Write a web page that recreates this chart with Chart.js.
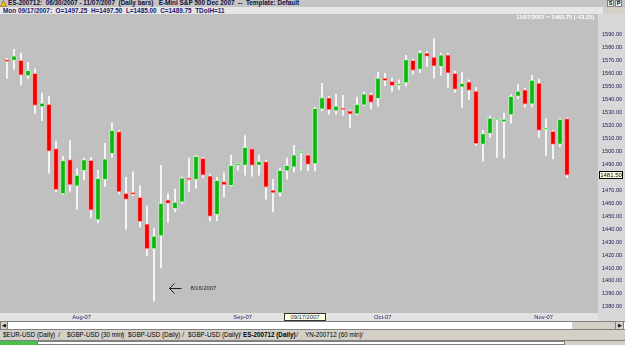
<!DOCTYPE html>
<html><head><meta charset="utf-8">
<script src="https://cdn.jsdelivr.net/npm/chart.js@4.4.1/dist/chart.umd.min.js"></script>
<style>
body{margin:0;width:625px;height:345px;overflow:hidden;background:#D4D0C8;font-family:'Liberation Sans',Arial,sans-serif;position:relative}
.abs{position:absolute;white-space:nowrap;line-height:1}
#row1{left:0;top:0;width:625px;height:7px;background:#C4C4C4}
#row2{left:0;top:7px;width:603px;height:7px;background:#E6E6E6}
#t1{left:8px;top:0px;font-size:6.4px;font-weight:bold;color:#101040}
#t2{left:3px;top:7.5px;font-size:6.4px;font-weight:bold;color:#1a1a70}
#cwrap{left:0;top:14px;width:625px;height:307px}
#lastlbl{left:516px;top:14.5px;font-size:5.8px;font-weight:bold;color:#ffffff}
.btn{top:0;width:7px;height:7px;background:#f4f4f4;border:1px solid #808080;box-sizing:border-box;font-size:5.5px;font-weight:bold;text-align:center;color:#000}
#datebox{left:284px;top:313px;width:42px;height:8px;background:#FFFFE6;border:1px solid #333;box-sizing:border-box;font-size:5.8px;color:#1a1a60;text-align:center;line-height:6px}
#scroll{left:0;top:321px;width:625px;height:9px;background:#fff;border-top:1px solid #808080;border-bottom:1px solid #808080;box-sizing:border-box}
#sl{left:0;top:321px;width:8px;height:9px;background:#D4D0C8;border:1px solid #808080;box-sizing:border-box;font-size:5px;text-align:center;line-height:7px}
#sr{left:615px;top:321px;width:9px;height:9px;background:#D4D0C8;border:1px solid #808080;box-sizing:border-box;font-size:5px;text-align:center;line-height:7px}
#thumb{left:572px;top:322px;width:43px;height:7px;background:#D4D0C8}
#tabs{left:0;top:330px;width:625px;height:11px;background:#D4D0C8;border-bottom:1px solid #808080;box-sizing:border-box}
.tab{top:332px;font-size:6.3px;color:#000}
.sep{top:331px;font-size:8px;color:#404040}
#bottom{left:37px;top:341px;width:528px;height:4px;background:#fff;border:1px solid #808080;box-sizing:border-box}
#green{left:0;top:341px;width:37px;height:4px;background:#4CC04C}
</style>
</head><body>
<div class="abs" id="row1"></div>
<div class="abs" id="row2"></div>
<svg class="abs" style="left:0;top:0" width="7" height="7"><polygon points="3.5,0.5 6.5,6.5 0.5,6.5" fill="#F0C000" stroke="#806000" stroke-width="0.6"/></svg>
<div class="abs" id="t1">ES-200712:&nbsp; 06/30/2007 - 11/07/2007&nbsp; (Daily bars)&nbsp;&nbsp; E-Mini S&amp;P 500 Dec 2007&nbsp; --&nbsp; Template: Default</div>
<div class="abs" id="t2">Mon 09/17/2007:&nbsp; O=1497.25&nbsp; H=1497.50&nbsp; L=1485.00&nbsp; C=1489.75&nbsp; TDolH=11</div>
<div class="abs btn" style="left:607px">S</div>
<div class="abs btn" style="left:615px">P</div>
<div class="abs" id="cwrap"><canvas id="c" width="625" height="307"></canvas></div>
<div class="abs" id="lastlbl">11/07/2007 = 1483.75 (-43.25)</div>
<div class="abs" id="datebox">09/17/2007</div>
<div class="abs" id="scroll"></div>
<div class="abs" id="thumb"></div>
<div class="abs" id="sl">&#9664;</div>
<div class="abs" id="sr">&#9654;</div>
<div class="abs" id="tabs"></div>
<div class="abs tab" style="left:3px">$EUR-USD (Daily)</div>
<div class="abs sep" style="left:58px">/</div>
<div class="abs tab" style="left:67px">$GBP-USD (30 min)</div>
<div class="abs sep" style="left:121px">/</div>
<div class="abs tab" style="left:128px">$GBP-USD (Daily)</div>
<div class="abs sep" style="left:182px">/</div>
<div class="abs tab" style="left:188px">$GBP-USD (Daily)</div>
<div class="abs sep" style="left:239px">/</div>
<div class="abs tab" style="left:243px;font-weight:bold">ES-200712 (Daily)</div>
<div class="abs sep" style="left:296px">/</div>
<div class="abs tab" style="left:305px">YN-200712 (60 min)</div>
<div class="abs sep" style="left:361px">/</div>
<div class="abs" id="green"></div>
<div class="abs" id="bottom"></div>
<script>
// ---- data (ES-200712 daily bars, Jul 17 - Nov 7 2007) ----
const opens = [1570,1570,1570,1558,1560,1534,1536,1502,1467,1493.5,
1473,1485,1493,1447,1478,1498,1515,1467.5,1467.5,1464.5,
1444,1424.75,1434.75,1462.5,1455.75,1460.75,1479.5,1478,1494.5,1481,
1451,1476.5,1473.5,1489,1489,1502,1489,1492,1470,1467.75,
1484.75,1487.75,1498.5,1497.25,1490.25,1532.25,1541,1531,1533,1531,
1528.5,1535.5,1543.5,1540.5,1556.25,1553.75,1550.5,1552.5,1570,1563,
1575.5,1572.5,1565,1574.25,1560,1549.25,1553.5,1546.25,1505.25,1513.5,
1524,1522.5,1528,1542.25,1547.25,1536.25,1552.5,1516.5,1515.25,1505.25,
1525];
const highs = [1571.5,1578.5,1575.5,1568.5,1563.5,1544.75,1542.25,1507.75,1496,1508.25,
1486.5,1494.75,1495.25,1485.25,1506,1522,1516,1479.75,1484,1473.5,
1457.75,1440.75,1489,1467.25,1470.75,1480,1494.75,1496.5,1495.25,1482.25,
1479.75,1483.25,1497,1490,1512,1502.25,1497,1493,1478.25,1487,
1494.75,1504.5,1500.25,1497.5,1533.75,1552.25,1542.25,1543.75,1543,1531.75,
1541.75,1545.5,1545,1561,1560,1556.25,1555,1573.75,1571,1577.5,
1576.75,1586.75,1575.5,1575.5,1561.75,1561,1555,1549.25,1516,1527,
1525,1529.25,1543.5,1551.25,1548.5,1558.5,1555.5,1525,1516,1525.5,
1525.5];
const lows = [1556,1563,1551,1556,1529,1523.5,1482.75,1469,1466.5,1469,
1455.25,1477.75,1448.5,1444.75,1472.75,1495.25,1467,1439.75,1465.75,1441.5,
1419.5,1384.5,1410,1445.25,1453.25,1459.5,1469,1471.5,1479.75,1446.5,
1446.5,1464.75,1473,1485.25,1481.5,1480.75,1481.5,1462.75,1453.25,1465.25,
1478.5,1484,1485.25,1485,1484.75,1531,1528.5,1528.5,1527.5,1518.25,
1528,1535,1532.5,1534.75,1550.5,1546.25,1547.5,1550,1559.25,1560.5,
1565,1556.25,1558.5,1549.25,1545.5,1533.75,1539.75,1504.5,1492.25,1510.75,
1495.25,1494.75,1521.5,1540.5,1534,1534,1510.5,1496.5,1494,1503.25,
1479.5];
const closes = [1569,1573.5,1558.5,1562.25,1535.25,1537,1500,1470.25,1492.75,1474,
1481.5,1493.5,1454.5,1479,1494,1516,1468.5,1462.75,1466.75,1445.75,
1424.75,1434.5,1459.75,1459.75,1460.75,1479.5,1477.75,1496,1481.5,1449.75,
1477.5,1474,1489,1489.5,1503,1489,1492.25,1472.25,1467.75,1485.25,
1489,1497.25,1498.75,1489.75,1533,1541.25,1531.75,1534.75,1531.75,1528.5,
1536,1544.25,1537.5,1556.25,1554.25,1550.5,1551.75,1570.5,1562.25,1576,
1573,1565.5,1574.25,1560,1547.5,1552.25,1546.75,1505.75,1513.5,1525.5,
1524.5,1524.75,1542.25,1546.25,1536.25,1554.75,1516,1517,1505.25,1524.75,
1481.5];
const monthTickIndex = [10, 33, 53, 76];
const monthLabels = ['Aug-07', 'Sep-07', 'Oct-07', 'Nov-07'];
const yTicks = [1380,1390,1400,1410,1420,1430,1440,1450,1460,1470,1480,1490,1500,1510,1520,1530,1540,1550,1560,1570,1580,1590];
const annotIndex = 21;
const annotText = '8/16/2007';

// ---- styles ----
const GREEN = '#0DB80D', GREEN_B = '#B8F0B8';
const RED = '#EE0000', RED_B = '#FF9C9C';
const up = closes.map((c, i) => c >= opens[i]);
const wickData = highs.map((h, i) => ({x: i, y: [lows[i], h]}));
const bodyData = opens.map((o, i) => ({x: i, y: [Math.min(o, closes[i]), Math.max(o, closes[i])]}));

const plug = {
  id: 'bgann',
  beforeDraw(chart) {
    const {ctx, chartArea: a, width, height} = chart;
    ctx.save();
    ctx.fillStyle = '#C0C0C0'; ctx.fillRect(0, 0, a.right, a.bottom);
    ctx.fillStyle = '#D8D8D8'; ctx.fillRect(a.right, 0, width - a.right, height);
    ctx.fillStyle = '#E2E2E2'; ctx.fillRect(0, a.bottom, a.right, height - a.bottom);
    ctx.restore();
  },
  afterDraw(chart) {
    const {ctx, chartArea: a, scales: {x, y}} = chart;
    ctx.save();
    // arrow annotation
    const x0 = Math.round(x.getPixelForValue(annotIndex) + 15) + 0.5;
    const y0 = Math.round(y.getPixelForValue(lows[annotIndex]) - 13.5) + 0.5;
    ctx.strokeStyle = '#202020'; ctx.lineWidth = 1;
    ctx.beginPath();
    ctx.moveTo(x0, y0); ctx.lineTo(x0 + 12, y0);
    ctx.moveTo(x0 + 5, y0 - 5); ctx.lineTo(x0, y0); ctx.lineTo(x0 + 5, y0 + 5);
    ctx.stroke();
    ctx.fillStyle = '#202020';
    ctx.font = '5.8px "Liberation Sans"';
    ctx.textBaseline = 'middle'; ctx.textAlign = 'left';
    ctx.fillText(annotText, x0 + 21, y0);
    // last price box
    const last = closes[closes.length - 1];
    const yp = Math.round(y.getPixelForValue(last));
    ctx.fillStyle = '#FFFFE4';
    ctx.fillRect(a.right + 1, yp - 4, 24, 8);
    ctx.strokeStyle = '#000';
    ctx.strokeRect(a.right + 1.5, yp - 3.5, 23, 7);
    ctx.fillStyle = '#000';
    ctx.font = '6px "Liberation Sans"';
    ctx.textAlign = 'center';
    ctx.fillText(last.toFixed(2), a.right + 13, yp + 0.5);
    ctx.restore();
  }
};

new Chart(document.getElementById('c'), {
  type: 'bar',
  data: {
    datasets: [
      {data: bodyData, order: 0, grouped: false, barThickness: 5,
       backgroundColor: up.map(u => u ? GREEN : RED),
       borderColor: up.map(u => u ? GREEN_B : RED_B),
       borderWidth: 1, borderSkipped: false, minBarLength: 2},
      {data: wickData, order: 1, grouped: false, barThickness: 1,
       backgroundColor: '#FFFFFF', borderWidth: 0}
    ]
  },
  options: {
    responsive: false, animation: false, devicePixelRatio: 1,
    layout: {padding: 0},
    plugins: {legend: {display: false}, tooltip: {enabled: false}},
    scales: {
      x: {type: 'linear', offset: false, min: -1, max: -1 + 598 / 7,
        grid: {display: false, drawTicks: false}, border: {display: false},
        afterBuildTicks: s => { s.ticks = monthTickIndex.map(v => ({value: v})); },
        afterFit: s => { s.height = 8; },
        ticks: {autoSkip: false, maxRotation: 0, padding: 1, labelOffset: 4.7,
          color: '#1a1a60', font: {family: 'Liberation Sans', size: 5.8},
          callback: (v, i) => monthLabels[i]}
      },
      y: {position: 'right', min: 1375.3, max: 1600,
        grid: {display: false, drawTicks: false}, border: {display: false},
        afterBuildTicks: s => { s.ticks = yTicks.map(v => ({value: v})); },
        afterFit: s => { s.width = 27; },
        ticks: {autoSkip: false, padding: 4, color: '#1a1a60',
          font: {family: 'Liberation Sans', size: 5.6},
          callback: v => Number(v).toFixed(2)}
      }
    }
  },
  plugins: [plug]
});
</script>
</body></html>
